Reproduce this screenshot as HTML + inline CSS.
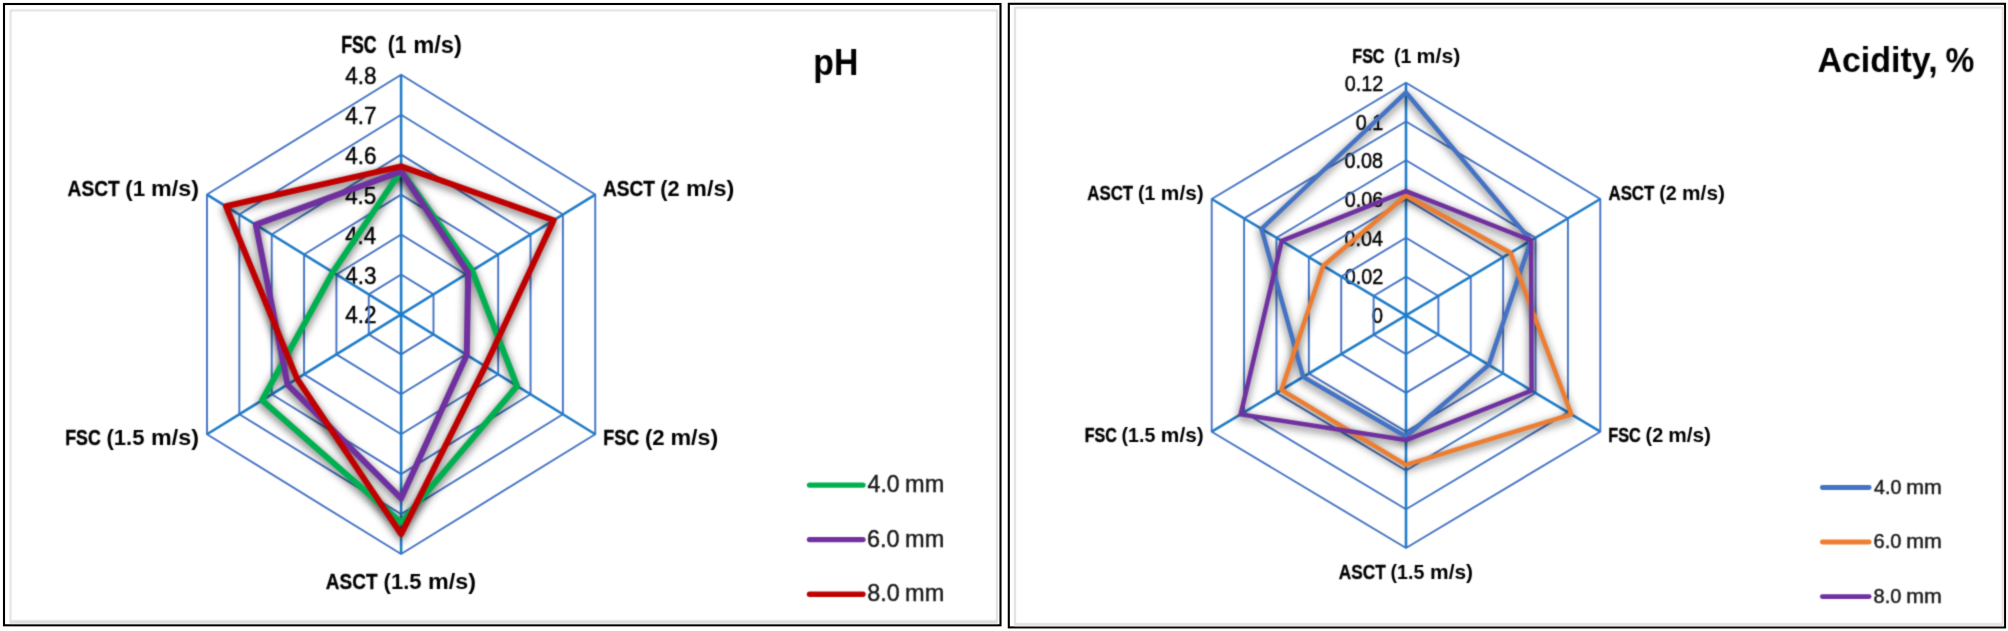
<!DOCTYPE html>
<html><head><meta charset="utf-8"><title>Radar charts: pH and Acidity</title>
<style>
html,body{margin:0;padding:0;background:#fff;}
body{width:2008px;height:631px;overflow:hidden;}
svg{display:block;}
svg text{font-family:"Liberation Sans",sans-serif;white-space:pre;}
</style></head>
<body>
<svg width="2008" height="631" viewBox="0 0 2008 631">
<defs>
<filter id="sh" x="0" y="0" width="2008" height="631" filterUnits="userSpaceOnUse">
<feGaussianBlur in="SourceAlpha" stdDeviation="4.5"/>
<feOffset dx="0" dy="3" result="b"/>
<feFlood flood-color="#000" flood-opacity="0.63"/>
<feComposite in2="b" operator="in"/>
</filter>
<filter id="soft" x="0" y="0" width="2008" height="631" filterUnits="userSpaceOnUse" color-interpolation-filters="sRGB">
<feConvolveMatrix order="3" kernelMatrix="0.0276 0.111 0.0276 0.111 0.4456 0.111 0.0276 0.111 0.0276" edgeMode="none" preserveAlpha="false"/>
</filter>
</defs>
<rect x="0" y="0" width="2008" height="631" fill="#fff"/>
<!-- black panel borders -->
<g>
<rect x="4" y="4" width="996.5" height="621.3" fill="#fff" stroke="#000" stroke-width="2.1"/>
<rect x="1008.8" y="3.8" width="996.2" height="623.6" fill="#fff" stroke="#000" stroke-width="2.1"/>
</g>
<!-- light-gray chart-area frames -->
<g filter="url(#soft)">
<path d="M10.5,622.0 V10.3 H996.9 V622.0" fill="none" stroke="#dcdcdc" stroke-width="1.8"/>
<line x1="9.6" y1="622.0" x2="997.8" y2="622.0" stroke="#dcdcdc" stroke-width="3.6"/>
<path d="M1015,624.7 V7.7 H2002.7 V624.7" fill="none" stroke="#dcdcdc" stroke-width="1.8"/>
<line x1="1014.1" y1="624.7" x2="2003.6000000000001" y2="624.7" stroke="#e2e2e2" stroke-width="3.2"/>
</g>
<!-- value-axis tick labels (drawn beneath grid and series) -->
<g filter="url(#soft)">
<text xml:space="preserve" transform="translate(345.14,323.45) scale(0.9113,1)" font-size="24.78" font-weight="400" fill="#000" stroke="#000" stroke-width="0.45" vector-effect="non-scaling-stroke" stroke-linejoin="round">4.2</text>
<text xml:space="preserve" transform="translate(345.14,283.51) scale(0.9079,1)" font-size="24.78" font-weight="400" fill="#000" stroke="#000" stroke-width="0.45" vector-effect="non-scaling-stroke" stroke-linejoin="round">4.3</text>
<text xml:space="preserve" transform="translate(345.14,243.57) scale(0.8977,1)" font-size="24.78" font-weight="400" fill="#000" stroke="#000" stroke-width="0.45" vector-effect="non-scaling-stroke" stroke-linejoin="round">4.4</text>
<text xml:space="preserve" transform="translate(345.14,203.62) scale(0.9045,1)" font-size="24.78" font-weight="400" fill="#000" stroke="#000" stroke-width="0.45" vector-effect="non-scaling-stroke" stroke-linejoin="round">4.5</text>
<text xml:space="preserve" transform="translate(345.14,163.68) scale(0.9079,1)" font-size="24.78" font-weight="400" fill="#000" stroke="#000" stroke-width="0.45" vector-effect="non-scaling-stroke" stroke-linejoin="round">4.6</text>
<text xml:space="preserve" transform="translate(345.14,123.74) scale(0.9113,1)" font-size="24.78" font-weight="400" fill="#000" stroke="#000" stroke-width="0.45" vector-effect="non-scaling-stroke" stroke-linejoin="round">4.7</text>
<text xml:space="preserve" transform="translate(345.14,83.80) scale(0.9079,1)" font-size="24.78" font-weight="400" fill="#000" stroke="#000" stroke-width="0.45" vector-effect="non-scaling-stroke" stroke-linejoin="round">4.8</text>
<text xml:space="preserve" transform="translate(1372.11,323.05) scale(0.8864,1)" font-size="22.32" font-weight="400" fill="#000" stroke="#000" stroke-width="0.45" vector-effect="non-scaling-stroke" stroke-linejoin="round">0</text>
<text xml:space="preserve" transform="translate(1344.81,284.37) scale(0.8864,1)" font-size="22.32" font-weight="400" fill="#000" stroke="#000" stroke-width="0.45" vector-effect="non-scaling-stroke" stroke-linejoin="round">0.02</text>
<text xml:space="preserve" transform="translate(1344.41,245.68) scale(0.8864,1)" font-size="22.32" font-weight="400" fill="#000" stroke="#000" stroke-width="0.45" vector-effect="non-scaling-stroke" stroke-linejoin="round">0.04</text>
<text xml:space="preserve" transform="translate(1344.71,207.00) scale(0.8864,1)" font-size="22.32" font-weight="400" fill="#000" stroke="#000" stroke-width="0.45" vector-effect="non-scaling-stroke" stroke-linejoin="round">0.06</text>
<text xml:space="preserve" transform="translate(1344.61,168.32) scale(0.8864,1)" font-size="22.32" font-weight="400" fill="#000" stroke="#000" stroke-width="0.45" vector-effect="non-scaling-stroke" stroke-linejoin="round">0.08</text>
<text xml:space="preserve" transform="translate(1355.79,129.63) scale(0.8864,1)" font-size="22.32" font-weight="400" fill="#000" stroke="#000" stroke-width="0.45" vector-effect="non-scaling-stroke" stroke-linejoin="round">0.1</text>
<text xml:space="preserve" transform="translate(1344.81,90.95) scale(0.8864,1)" font-size="22.32" font-weight="400" fill="#000" stroke="#000" stroke-width="0.45" vector-effect="non-scaling-stroke" stroke-linejoin="round">0.12</text>
</g>
<!-- grid rings, spokes, series shadows, series lines, legend keys -->
<g filter="url(#soft)">
<polygon points="401.12,274.46 433.48,294.43 433.48,334.38 401.12,354.34 368.77,334.38 368.77,294.43" fill="none" stroke="#4472c4" stroke-width="1.9" stroke-linejoin="round"/>
<polygon points="401.11,234.52 465.83,274.45 465.83,354.35 401.11,394.28 336.41,354.35 336.41,274.45" fill="none" stroke="#4472c4" stroke-width="1.9" stroke-linejoin="round"/>
<polygon points="401.11,194.58 498.19,254.48 498.19,374.33 401.11,434.23 304.06,374.33 304.06,254.48" fill="none" stroke="#4472c4" stroke-width="1.9" stroke-linejoin="round"/>
<polygon points="401.11,154.63 530.55,234.50 530.55,394.30 401.11,474.17 271.71,394.30 271.71,234.50" fill="none" stroke="#4472c4" stroke-width="1.9" stroke-linejoin="round"/>
<polygon points="401.10,114.69 562.90,214.53 562.90,414.27 401.10,514.11 239.35,414.27 239.35,214.53" fill="none" stroke="#4472c4" stroke-width="1.9" stroke-linejoin="round"/>
<polygon points="401.10,74.75 595.26,194.55 595.26,434.25 401.10,554.05 207.00,434.25 207.00,194.55" fill="none" stroke="#4472c4" stroke-width="1.9" stroke-linejoin="round"/>
<line x1="401.12" y1="314.40" x2="401.10" y2="74.75" stroke="#1f7cc8" stroke-width="2.6" stroke-linecap="butt"/>
<line x1="401.12" y1="314.40" x2="595.26" y2="194.55" stroke="#1f7cc8" stroke-width="2.6" stroke-linecap="butt"/>
<line x1="401.12" y1="314.40" x2="595.26" y2="434.25" stroke="#1f7cc8" stroke-width="2.6" stroke-linecap="butt"/>
<line x1="401.12" y1="314.40" x2="401.10" y2="554.05" stroke="#1f7cc8" stroke-width="2.6" stroke-linecap="butt"/>
<line x1="401.12" y1="314.40" x2="207.00" y2="434.25" stroke="#1f7cc8" stroke-width="2.6" stroke-linecap="butt"/>
<line x1="401.12" y1="314.40" x2="207.00" y2="194.55" stroke="#1f7cc8" stroke-width="2.6" stroke-linecap="butt"/>
<polygon points="401.11,170.61 472.18,270.53 517.02,385.95 401.10,522.42 262.01,400.28 332.79,272.21" fill="none" stroke="#000" stroke-width="6.0" stroke-linejoin="round" filter="url(#sh)"/>
<polygon points="401.11,171.33 468.29,272.93 466.74,354.91 401.10,498.45 287.56,384.51 255.80,224.68" fill="none" stroke="#000" stroke-width="6.0" stroke-linejoin="round" filter="url(#sh)"/>
<polygon points="401.11,166.34 553.64,220.25 485.18,366.30 401.10,534.04 297.01,378.68 225.91,206.22" fill="none" stroke="#000" stroke-width="6.0" stroke-linejoin="round" filter="url(#sh)"/>
<polygon points="401.11,170.61 472.18,270.53 517.02,385.95 401.10,522.42 262.01,400.28 332.79,272.21" fill="none" stroke="#00b050" stroke-width="6.0" stroke-linejoin="round"/>
<polygon points="401.11,171.33 468.29,272.93 466.74,354.91 401.10,498.45 287.56,384.51 255.80,224.68" fill="none" stroke="#7030a0" stroke-width="6.0" stroke-linejoin="round"/>
<polygon points="401.11,166.34 553.64,220.25 485.18,366.30 401.10,534.04 297.01,378.68 225.91,206.22" fill="none" stroke="#c00000" stroke-width="6.0" stroke-linejoin="round"/>
<line x1="809.5" y1="485.1" x2="863" y2="485.1" stroke="#00b050" stroke-width="5.4" stroke-linecap="round"/>
<line x1="809.5" y1="539.6" x2="863" y2="539.6" stroke="#7030a0" stroke-width="5.4" stroke-linecap="round"/>
<line x1="809.5" y1="594.2" x2="863" y2="594.2" stroke="#c00000" stroke-width="5.4" stroke-linecap="round"/>
<polygon points="1406.00,276.57 1438.38,295.96 1438.38,334.74 1406.00,354.12 1373.62,334.74 1373.62,295.96" fill="none" stroke="#4472c4" stroke-width="1.9" stroke-linejoin="round"/>
<polygon points="1406.00,237.80 1470.77,276.57 1470.77,354.13 1406.00,392.90 1341.23,354.13 1341.23,276.57" fill="none" stroke="#4472c4" stroke-width="1.9" stroke-linejoin="round"/>
<polygon points="1406.00,199.02 1503.15,257.17 1503.15,373.52 1406.00,431.67 1308.85,373.52 1308.85,257.17" fill="none" stroke="#4472c4" stroke-width="1.9" stroke-linejoin="round"/>
<polygon points="1406.00,160.25 1535.53,237.78 1535.53,392.92 1406.00,470.45 1276.47,392.92 1276.47,237.78" fill="none" stroke="#4472c4" stroke-width="1.9" stroke-linejoin="round"/>
<polygon points="1406.00,121.47 1567.92,218.39 1567.92,412.31 1406.00,509.23 1244.08,412.31 1244.08,218.39" fill="none" stroke="#4472c4" stroke-width="1.9" stroke-linejoin="round"/>
<polygon points="1406.00,82.70 1600.30,199.00 1600.30,431.70 1406.00,548.00 1211.70,431.70 1211.70,199.00" fill="none" stroke="#4472c4" stroke-width="1.9" stroke-linejoin="round"/>
<line x1="1406.00" y1="315.35" x2="1406.00" y2="82.70" stroke="#1f7cc8" stroke-width="2.6" stroke-linecap="butt"/>
<line x1="1406.00" y1="315.35" x2="1600.30" y2="199.00" stroke="#1f7cc8" stroke-width="2.6" stroke-linecap="butt"/>
<line x1="1406.00" y1="315.35" x2="1600.30" y2="431.70" stroke="#1f7cc8" stroke-width="2.6" stroke-linecap="butt"/>
<line x1="1406.00" y1="315.35" x2="1406.00" y2="548.00" stroke="#1f7cc8" stroke-width="2.6" stroke-linecap="butt"/>
<line x1="1406.00" y1="315.35" x2="1211.70" y2="431.70" stroke="#1f7cc8" stroke-width="2.6" stroke-linecap="butt"/>
<line x1="1406.00" y1="315.35" x2="1211.70" y2="199.00" stroke="#1f7cc8" stroke-width="2.6" stroke-linecap="butt"/>
<polygon points="1406.00,92.47 1530.93,240.54 1488.77,364.92 1406.00,436.44 1303.22,376.90 1261.50,228.82" fill="none" stroke="#000" stroke-width="4.5" stroke-linejoin="round" filter="url(#sh)"/>
<polygon points="1406.00,195.54 1510.53,252.75 1571.29,414.33 1406.00,464.94 1281.45,389.93 1323.23,265.78" fill="none" stroke="#000" stroke-width="4.5" stroke-linejoin="round" filter="url(#sh)"/>
<polygon points="1406.00,191.11 1531.09,240.44 1531.60,390.56 1406.00,440.05 1240.65,414.36 1281.75,240.94" fill="none" stroke="#000" stroke-width="4.5" stroke-linejoin="round" filter="url(#sh)"/>
<polygon points="1406.00,92.47 1530.93,240.54 1488.77,364.92 1406.00,436.44 1303.22,376.90 1261.50,228.82" fill="none" stroke="#4472c4" stroke-width="4.5" stroke-linejoin="round"/>
<polygon points="1406.00,195.54 1510.53,252.75 1571.29,414.33 1406.00,464.94 1281.45,389.93 1323.23,265.78" fill="none" stroke="#ed7d31" stroke-width="4.5" stroke-linejoin="round"/>
<polygon points="1406.00,191.11 1531.09,240.44 1531.60,390.56 1406.00,440.05 1240.65,414.36 1281.75,240.94" fill="none" stroke="#7030a0" stroke-width="4.5" stroke-linejoin="round"/>
<line x1="1822.3" y1="487.5" x2="1869.2" y2="487.5" stroke="#4472c4" stroke-width="4.8" stroke-linecap="round"/>
<line x1="1822.3" y1="542.0" x2="1869.2" y2="542.0" stroke="#ed7d31" stroke-width="4.8" stroke-linecap="round"/>
<line x1="1822.3" y1="596.6" x2="1869.2" y2="596.6" stroke="#7030a0" stroke-width="4.8" stroke-linecap="round"/>
</g>
<!-- category labels, titles, legend text -->
<g filter="url(#soft)">
<g><text xml:space="preserve" transform="translate(341.15,52.80) scale(0.7629,1)" font-size="23.19" font-weight="700" fill="#000" stroke="#000" stroke-width="0.47" vector-effect="non-scaling-stroke" stroke-linejoin="round">FSC</text><text xml:space="preserve" transform="translate(387.74,52.80) scale(0.9104,1)" font-size="23.19" font-weight="700" fill="#000">(1</text><text xml:space="preserve" transform="translate(413.16,52.80) scale(1.0226,1)" font-size="23.19" font-weight="700" fill="#000">m/s)</text></g>
<g><text xml:space="preserve" transform="translate(603.02,195.80) scale(0.8561,1)" font-size="22.32" font-weight="700" fill="#000" stroke="#000" stroke-width="0.29" vector-effect="non-scaling-stroke" stroke-linejoin="round">ASCT</text><text xml:space="preserve" transform="translate(660.31,195.80) scale(0.9745,1)" font-size="22.32" font-weight="700" fill="#000">(2</text><text xml:space="preserve" transform="translate(686.07,195.80) scale(1.0532,1)" font-size="22.32" font-weight="700" fill="#000">m/s)</text></g>
<g><text xml:space="preserve" transform="translate(603.34,445.10) scale(0.8020,1)" font-size="22.32" font-weight="700" fill="#000" stroke="#000" stroke-width="0.40" vector-effect="non-scaling-stroke" stroke-linejoin="round">FSC</text><text xml:space="preserve" transform="translate(644.89,445.10) scale(0.9969,1)" font-size="22.32" font-weight="700" fill="#000">(2</text><text xml:space="preserve" transform="translate(670.39,445.10) scale(1.0416,1)" font-size="22.32" font-weight="700" fill="#000">m/s)</text></g>
<g><text xml:space="preserve" transform="translate(325.83,588.70) scale(0.8456,1)" font-size="22.46" font-weight="700" fill="#000" stroke="#000" stroke-width="0.31" vector-effect="non-scaling-stroke" stroke-linejoin="round">ASCT</text><text xml:space="preserve" transform="translate(383.60,588.70) scale(0.9796,1)" font-size="22.46" font-weight="700" fill="#000">(1.5</text><text xml:space="preserve" transform="translate(428.08,588.70) scale(1.0395,1)" font-size="22.46" font-weight="700" fill="#000">m/s)</text></g>
<g><text xml:space="preserve" transform="translate(65.25,445.10) scale(0.7950,1)" font-size="22.32" font-weight="700" fill="#000" stroke="#000" stroke-width="0.41" vector-effect="non-scaling-stroke" stroke-linejoin="round">FSC</text><text xml:space="preserve" transform="translate(106.40,445.10) scale(0.9887,1)" font-size="22.32" font-weight="700" fill="#000">(1.5</text><text xml:space="preserve" transform="translate(151.09,445.10) scale(1.0439,1)" font-size="22.32" font-weight="700" fill="#000">m/s)</text></g>
<g><text xml:space="preserve" transform="translate(67.62,195.80) scale(0.8467,1)" font-size="22.61" font-weight="700" fill="#000" stroke="#000" stroke-width="0.31" vector-effect="non-scaling-stroke" stroke-linejoin="round">ASCT</text><text xml:space="preserve" transform="translate(125.28,195.80) scale(0.9884,1)" font-size="22.61" font-weight="700" fill="#000">(1</text><text xml:space="preserve" transform="translate(151.09,195.80) scale(1.0305,1)" font-size="22.61" font-weight="700" fill="#000">m/s)</text></g>
<text xml:space="preserve" transform="translate(813.31,75.10) scale(0.9278,1)" font-size="36.38" font-weight="700" fill="#000">pH</text>
<g><text xml:space="preserve" transform="translate(867.62,492.20) scale(0.9744,1)" font-size="23.62" font-weight="400" fill="#1a1a1a" stroke="#1a1a1a" stroke-width="0.45" vector-effect="non-scaling-stroke" stroke-linejoin="round">4.0</text><text xml:space="preserve" transform="translate(905.07,492.20) scale(0.9955,1)" font-size="23.62" font-weight="400" fill="#1a1a1a" stroke="#1a1a1a" stroke-width="0.45" vector-effect="non-scaling-stroke" stroke-linejoin="round">mm</text></g>
<g><text xml:space="preserve" transform="translate(867.03,546.70) scale(0.9932,1)" font-size="23.62" font-weight="400" fill="#1a1a1a" stroke="#1a1a1a" stroke-width="0.45" vector-effect="non-scaling-stroke" stroke-linejoin="round">6.0</text><text xml:space="preserve" transform="translate(905.07,546.70) scale(0.9955,1)" font-size="23.62" font-weight="400" fill="#1a1a1a" stroke="#1a1a1a" stroke-width="0.45" vector-effect="non-scaling-stroke" stroke-linejoin="round">mm</text></g>
<g><text xml:space="preserve" transform="translate(867.15,601.30) scale(0.9894,1)" font-size="23.62" font-weight="400" fill="#1a1a1a" stroke="#1a1a1a" stroke-width="0.45" vector-effect="non-scaling-stroke" stroke-linejoin="round">8.0</text><text xml:space="preserve" transform="translate(905.07,601.30) scale(0.9955,1)" font-size="23.62" font-weight="400" fill="#1a1a1a" stroke="#1a1a1a" stroke-width="0.45" vector-effect="non-scaling-stroke" stroke-linejoin="round">mm</text></g>
<g><text xml:space="preserve" transform="translate(1352.36,63.10) scale(0.7751,1)" font-size="20.72" font-weight="700" fill="#000" stroke="#000" stroke-width="0.45" vector-effect="non-scaling-stroke" stroke-linejoin="round">FSC</text><text xml:space="preserve" transform="translate(1394.12,63.10) scale(0.9412,1)" font-size="20.72" font-weight="700" fill="#000">(1</text><text xml:space="preserve" transform="translate(1416.62,63.10) scale(1.0272,1)" font-size="20.72" font-weight="700" fill="#000">m/s)</text></g>
<g><text xml:space="preserve" transform="translate(1608.48,200.00) scale(0.8357,1)" font-size="20.14" font-weight="700" fill="#000" stroke="#000" stroke-width="0.33" vector-effect="non-scaling-stroke" stroke-linejoin="round">ASCT</text><text xml:space="preserve" transform="translate(1659.21,200.00) scale(0.9804,1)" font-size="20.14" font-weight="700" fill="#000">(2</text><text xml:space="preserve" transform="translate(1682.04,200.00) scale(1.0363,1)" font-size="20.14" font-weight="700" fill="#000">m/s)</text></g>
<g><text xml:space="preserve" transform="translate(1608.25,441.90) scale(0.8052,1)" font-size="20.14" font-weight="700" fill="#000" stroke="#000" stroke-width="0.39" vector-effect="non-scaling-stroke" stroke-linejoin="round">FSC</text><text xml:space="preserve" transform="translate(1645.61,441.90) scale(0.9866,1)" font-size="20.14" font-weight="700" fill="#000">(2</text><text xml:space="preserve" transform="translate(1668.14,441.90) scale(1.0363,1)" font-size="20.14" font-weight="700" fill="#000">m/s)</text></g>
<g><text xml:space="preserve" transform="translate(1338.87,579.20) scale(0.8379,1)" font-size="20.58" font-weight="700" fill="#000" stroke="#000" stroke-width="0.32" vector-effect="non-scaling-stroke" stroke-linejoin="round">ASCT</text><text xml:space="preserve" transform="translate(1390.52,579.20) scale(0.9541,1)" font-size="20.58" font-weight="700" fill="#000">(1.5</text><text xml:space="preserve" transform="translate(1430.04,579.20) scale(1.0169,1)" font-size="20.58" font-weight="700" fill="#000">m/s)</text></g>
<g><text xml:space="preserve" transform="translate(1084.76,441.90) scale(0.7948,1)" font-size="20.14" font-weight="700" fill="#000" stroke="#000" stroke-width="0.41" vector-effect="non-scaling-stroke" stroke-linejoin="round">FSC</text><text xml:space="preserve" transform="translate(1121.52,441.90) scale(0.9777,1)" font-size="20.14" font-weight="700" fill="#000">(1.5</text><text xml:space="preserve" transform="translate(1160.84,441.90) scale(1.0363,1)" font-size="20.14" font-weight="700" fill="#000">m/s)</text></g>
<g><text xml:space="preserve" transform="translate(1087.28,200.00) scale(0.8357,1)" font-size="20.14" font-weight="700" fill="#000" stroke="#000" stroke-width="0.33" vector-effect="non-scaling-stroke" stroke-linejoin="round">ASCT</text><text xml:space="preserve" transform="translate(1138.12,200.00) scale(0.9683,1)" font-size="20.14" font-weight="700" fill="#000">(1</text><text xml:space="preserve" transform="translate(1160.84,200.00) scale(1.0363,1)" font-size="20.14" font-weight="700" fill="#000">m/s)</text></g>
<g><text xml:space="preserve" transform="translate(1817.45,72.10) scale(0.9724,1)" font-size="34.93" font-weight="700" fill="#000">Acidity,</text><text xml:space="preserve" transform="translate(1945.59,72.10) scale(0.9271,1)" font-size="34.93" font-weight="700" fill="#000">%</text></g>
<g><text xml:space="preserve" transform="translate(1874.01,493.90) scale(0.9849,1)" font-size="20.00" font-weight="400" fill="#1a1a1a" stroke="#1a1a1a" stroke-width="0.45" vector-effect="non-scaling-stroke" stroke-linejoin="round">4.0</text><text xml:space="preserve" transform="translate(1906.21,493.90) scale(1.0684,1)" font-size="20.00" font-weight="400" fill="#1a1a1a" stroke="#1a1a1a" stroke-width="0.45" vector-effect="non-scaling-stroke" stroke-linejoin="round">mm</text></g>
<g><text xml:space="preserve" transform="translate(1873.50,548.40) scale(1.0038,1)" font-size="20.00" font-weight="400" fill="#1a1a1a" stroke="#1a1a1a" stroke-width="0.45" vector-effect="non-scaling-stroke" stroke-linejoin="round">6.0</text><text xml:space="preserve" transform="translate(1906.21,548.40) scale(1.0684,1)" font-size="20.00" font-weight="400" fill="#1a1a1a" stroke="#1a1a1a" stroke-width="0.45" vector-effect="non-scaling-stroke" stroke-linejoin="round">mm</text></g>
<g><text xml:space="preserve" transform="translate(1873.60,603.00) scale(1.0000,1)" font-size="20.00" font-weight="400" fill="#1a1a1a" stroke="#1a1a1a" stroke-width="0.45" vector-effect="non-scaling-stroke" stroke-linejoin="round">8.0</text><text xml:space="preserve" transform="translate(1906.21,603.00) scale(1.0684,1)" font-size="20.00" font-weight="400" fill="#1a1a1a" stroke="#1a1a1a" stroke-width="0.45" vector-effect="non-scaling-stroke" stroke-linejoin="round">mm</text></g>
</g>
</svg>
</body></html>
